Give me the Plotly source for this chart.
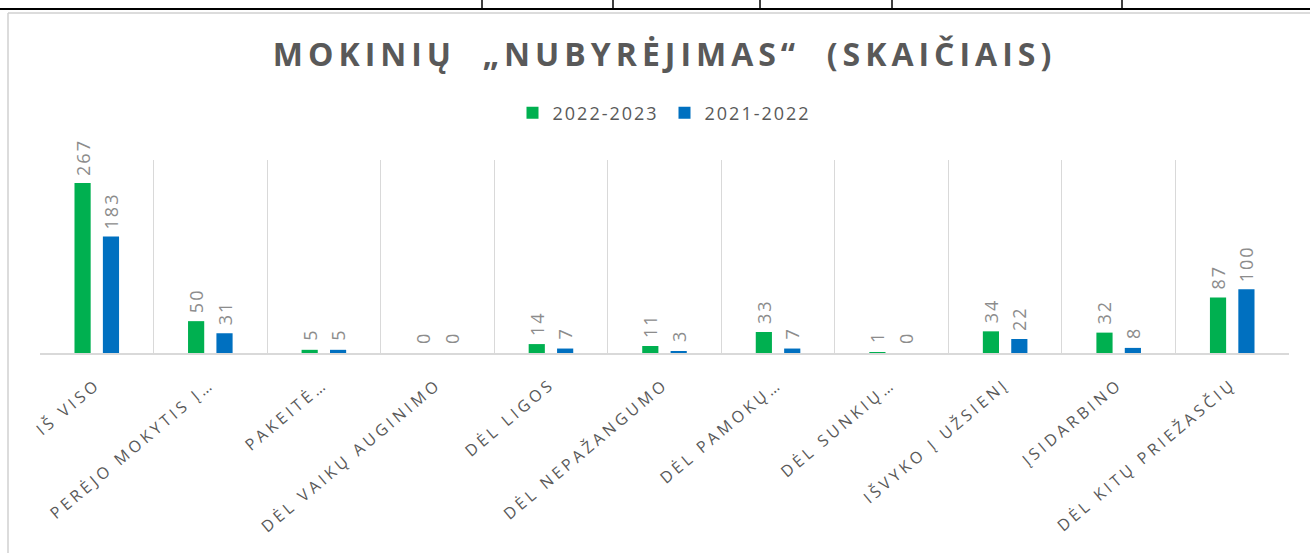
import plotly.graph_objects as go

categories = ["IŠ VISO", "PERĖJO MOKYTIS Į…", "PAKEITĖ…", "DĖL VAIKŲ AUGINIMO", "DĖL LIGOS",
              "DĖL NEPAŽANGUMO", "DĖL PAMOKŲ…", "DĖL SUNKIŲ…", "IŠVYKO Į UŽSIENĮ",
              "ĮSIDARBINO", "DĖL KITŲ PRIEŽASČIŲ"]
series_names = ["2022-2023", "2021-2022"]
values_2022_2023 = [267, 50, 5, 0, 14, 11, 33, 1, 34, 32, 87]
values_2021_2022 = [183, 31, 5, 0, 7, 3, 7, 0, 22, 8, 100]
colors = ["#00B050", "#0070C0"]

W, H = 1310, 553
L, R, T, B = 40, 1289, 160, 353

def px(x):
    return (x - L) / (R - L)

def py(y):
    return (B - y) / (B - T)

fig = go.Figure()
for name, vals, col in zip(series_names, [values_2022_2023, values_2021_2022], colors):
    fig.add_trace(go.Bar(
        x=categories, y=vals, name=name, marker=dict(color=col, line=dict(width=0)),
        text=[str(v) for v in vals], textposition="outside", textangle=-90,
        constraintext="none",
        textfont=dict(family="Open Sans", size=18, color="#8C8C8C"),
        cliponaxis=False,
    ))

shapes = []
# document table remnants at top
shapes.append(dict(type="line", xref="paper", yref="paper", x0=px(0), x1=px(1310), y0=py(9), y1=py(9),
                   line=dict(color="#000000", width=2)))
for xv in [482, 613, 760, 892, 1122]:
    shapes.append(dict(type="line", xref="paper", yref="paper", x0=px(xv), x1=px(xv), y0=py(0), y1=py(9),
                       line=dict(color="#000000", width=1.5)))
# chart frame
shapes.append(dict(type="line", xref="paper", yref="paper", x0=px(8), x1=px(8), y0=py(13), y1=py(553),
                   line=dict(color="#D0D0D0", width=1.5)))
shapes.append(dict(type="line", xref="paper", yref="paper", x0=px(8), x1=px(1310), y0=py(13), y1=py(13),
                   line=dict(color="#D0D0D0", width=1.5)))

fig.update_layout(
    width=W, height=H,
    margin=dict(l=L, r=W - R, t=T, b=H - B, pad=0),
    paper_bgcolor="white", plot_bgcolor="white",
    barmode="group", bargap=0.5, bargroupgap=0.43,
    title=dict(text="<b>MOKINIŲ  „NUBYRĖJIMAS“  (SKAIČIAIS)</b>", x=0.5, xref="paper", xanchor="center",
               y=1 - 55 / H, yanchor="middle",
               font=dict(family="Open Sans", size=32, color="#595959")),
    legend=dict(orientation="h", x=0.5, xanchor="center", y=1 - 113 / H, yref="container", yanchor="middle",
                font=dict(family="Open Sans", size=18, color="#595959"),
                entrywidth=107, traceorder="normal"),
    xaxis=dict(type="category", tickson="boundaries", showgrid=True, gridcolor="#D9D9D9", gridwidth=1,
               showline=True, linecolor="#D9D9D9", linewidth=1.5, ticks="", tickangle=-40,
               ticklabelstandoff=14,
               tickfont=dict(family="Open Sans", size=16, color="#595959")),
    yaxis=dict(range=[0, 303], visible=False, showgrid=False, zeroline=False),
    shapes=shapes,
    showlegend=True,
)

post = """
document.body.style.margin = '0';
var gd = document.getElementById('{plot_id}');
function spacing() {
  gd.querySelectorAll('.gtitle').forEach(function(e){ e.style.letterSpacing = '5px'; });
  gd.querySelectorAll('.legendtext').forEach(function(e){ e.style.letterSpacing = '2px'; });
  gd.querySelectorAll('.xtick text').forEach(function(e){ e.style.letterSpacing = '3.6px'; });
  gd.querySelectorAll('.bartext').forEach(function(e){
    e.style.letterSpacing = '2px';
    e.setAttribute('dx', '7');
  });
}
spacing();
gd.on('plotly_afterplot', spacing);
"""

fig.write_html("out.html", post_script=post, config={"displayModeBar": False})
